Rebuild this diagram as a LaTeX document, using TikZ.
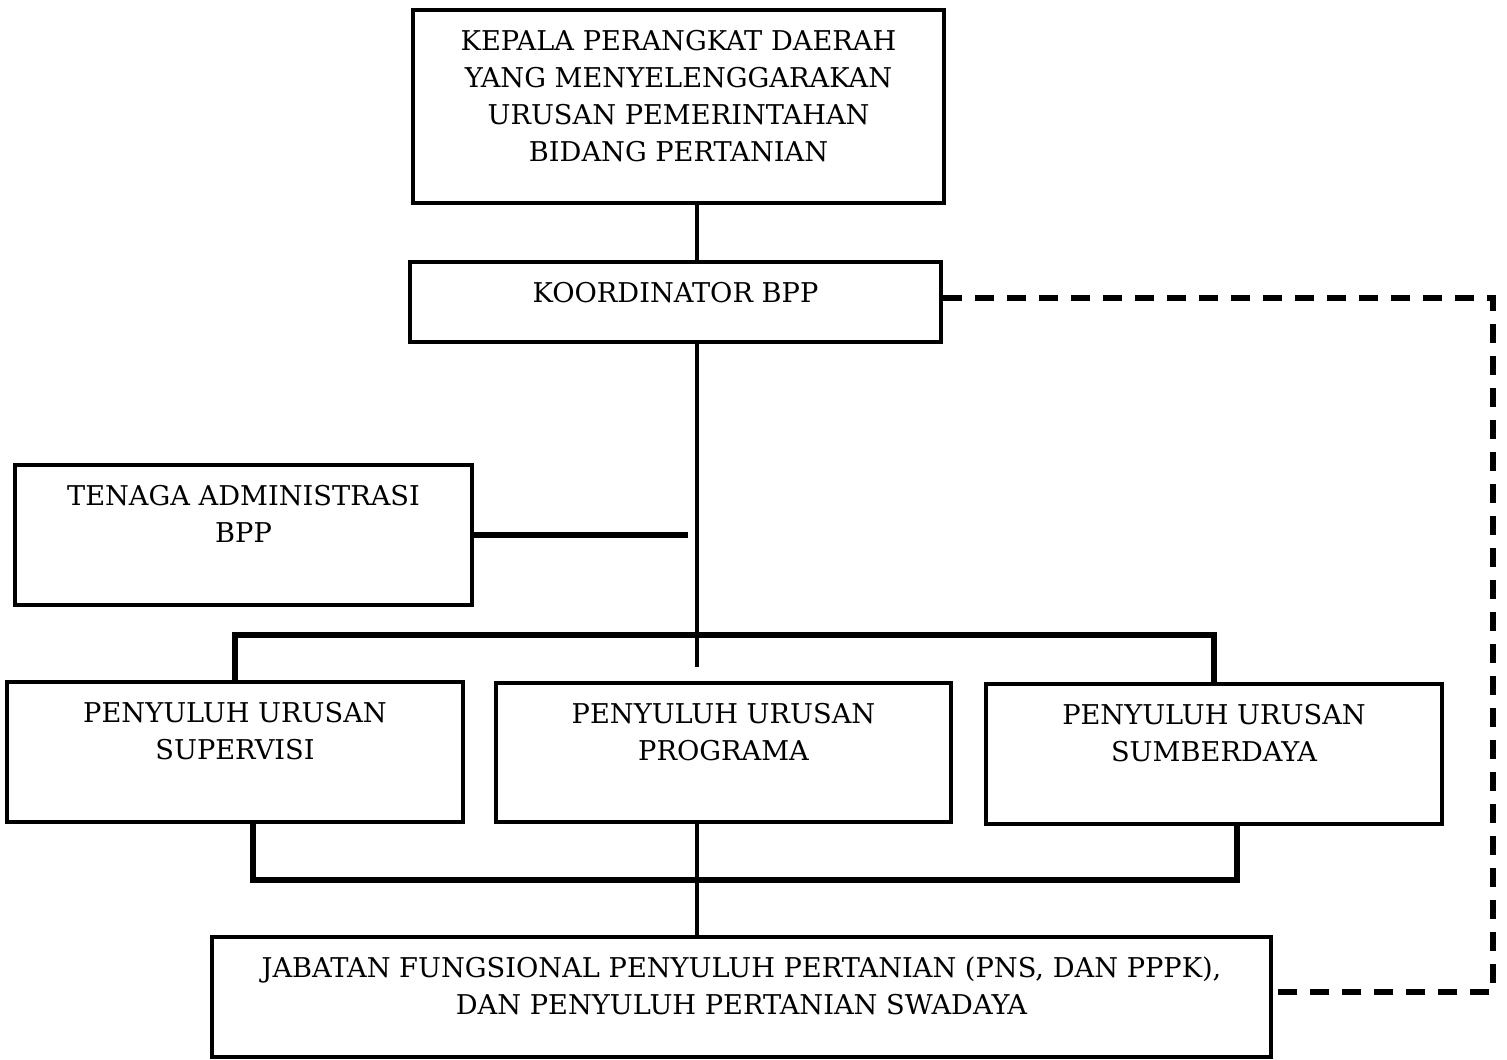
\documentclass[tikz,border=0pt]{standalone}
\usepackage{fontspec}
\setmainfont{DejaVu Serif}
\usetikzlibrary{positioning}

\begin{document}
\begin{tikzpicture}[
  box/.style={draw, line width=2.5pt, inner sep=0pt},
  txt/.style={align=center, inner sep=0pt, font=\fontsize{15.5}{21}\selectfont},
  link/.style={line width=2.5pt},
  bar/.style={line width=3.2pt},
  dashlink/.style={line width=3.4pt, dash pattern=on 0.38cm off 0.26cm}]
\useasboundingbox (0,0) rectangle (30.14,-21.18);
% boxes
\node (kepala) [box, minimum width=10.62cm, minimum height=3.86cm] at (13.57,-2.13) {};
\node (koord) [box, minimum width=10.62cm, minimum height=1.6cm] at (13.51,-6.04) {};
\node (admin) [box, minimum width=9.14cm, minimum height=2.8cm] at (4.87,-10.70) {};
\node (supervisi) [box, minimum width=9.12cm, minimum height=2.8cm] at (4.70,-15.04) {};
\node (programa) [box, minimum width=9.10cm, minimum height=2.78cm] at (14.47,-15.05) {};
\node (sumber) [box, minimum width=9.12cm, minimum height=2.8cm] at (24.28,-15.08) {};
\node (jabatan) [box, minimum width=21.18cm, minimum height=2.4cm] at (14.83,-19.94) {};
% texts
\node (kepalatxt) [txt, below=0.44cm of kepala.north] {KEPALA PERANGKAT DAERAH\\YANG MENYELENGGARAKAN\\URUSAN PEMERINTAHAN\\BIDANG PERTANIAN};
\node (koordtxt) [txt, below=0.44cm of koord.north] {KOORDINATOR BPP};
\node (admintxt) [txt, below=0.44cm of admin.north] {TENAGA ADMINISTRASI\\BPP};
\node (supervisitxt) [txt, below=0.44cm of supervisi.north] {PENYULUH URUSAN\\SUPERVISI};
\node (programatxt) [txt, below=0.44cm of programa.north] {PENYULUH URUSAN\\PROGRAMA};
\node (sumbertxt) [txt, below=0.44cm of sumber.north] {PENYULUH URUSAN\\SUMBERDAYA};
\node (jabatantxt) [txt, below=0.44cm of jabatan.north] {JABATAN FUNGSIONAL PENYULUH PERTANIAN (PNS, DAN PPPK),\\DAN PENYULUH PERTANIAN SWADAYA};
% helper points
\coordinate (spine) at (13.94,0);
\coordinate (spineend) at (13.94,-13.34);
\coordinate (adminend) at (13.76,0);
\coordinate (bus) at (0,-12.70);
\coordinate (lowbus) at (0,-17.60);
\coordinate (dashright) at (29.86,0);
% solid links
\draw [link] (kepala.south -| spine) -- (koord.north -| spine);
\draw [link] (koord.south -| spine) -- (spineend);
\draw [bar] (admin.east) -- (admin.east -| adminend);
\draw [bar] (supervisi.north) -- (supervisi.north |- bus) -- (sumber.north |- bus) -- (sumber.north);
\draw [link] (programa.south -| spine) -- (jabatan.north -| spine);
\draw [bar] ([xshift=0.36cm]supervisi.south) -- ([xshift=0.36cm]supervisi.south |- lowbus)
  -- ([xshift=0.46cm]sumber.south |- lowbus) -- ([xshift=0.46cm]sumber.south);
% dashed link
\draw [dashlink] ([yshift=0.08cm]koord.east) -- ([yshift=0.08cm]koord.east -| dashright)
  -- ([yshift=0.1cm]jabatan.east -| dashright) -- ([yshift=0.1cm]jabatan.east);
\end{tikzpicture}
\end{document}
